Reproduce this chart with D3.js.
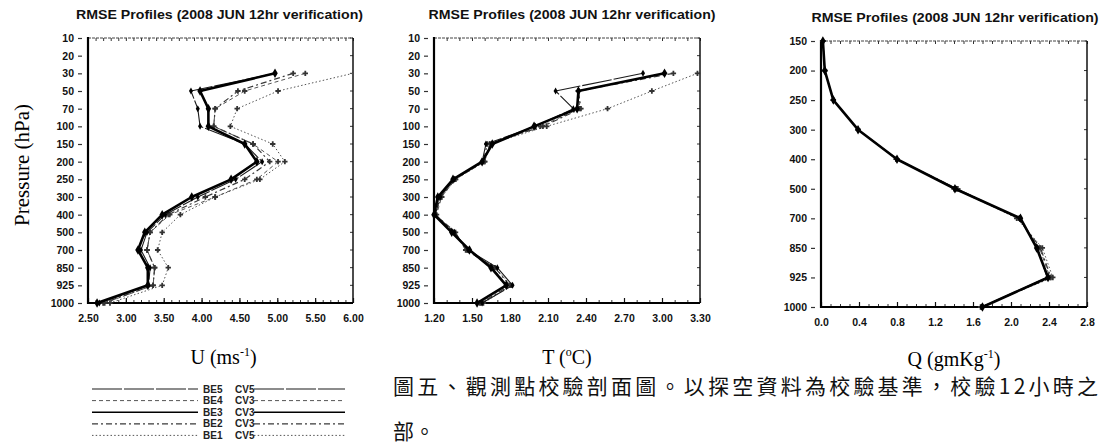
<!DOCTYPE html>
<html>
<head>
<meta charset="utf-8">
<script src="https://cdn.jsdelivr.net/npm/d3@7"></script>
<style>
  body { margin: 0; background: #fff; }
  svg { display: block; }
</style>
</head>
<body>
<svg id="chart" width="1105" height="446"></svg>
<script>
"use strict";

// /////// DATA

// pressure levels (category axis, top to bottom)
const levelsUT = [10, 20, 30, 50, 70, 100, 150, 200, 250, 300, 400, 500, 700, 850, 925, 1000];
const levelsQ = [150, 200, 250, 300, 400, 500, 700, 850, 925, 1000];
// levels that carry data in U / T
const dataLevelsUT = [30, 50, 70, 100, 150, 200, 250, 300, 400, 500, 700, 850, 925, 1000];

const seriesNames = ["BE5  CV5", "BE4  CV3", "BE3  CV3", "BE2  CV3", "BE1  CV5"];

// U RMSE (m/s)
const uBE5CV5 = [4.97, 3.86, 3.95, 3.98, 4.57, 4.80, 4.45, 3.95, 3.52, 3.28, 3.20, 3.32, 3.30, 2.65];
const uBE4CV3 = [5.37, 4.57, 4.18, 4.16, 4.68, 5.01, 4.73, 4.18, 3.58, 3.32, 3.28, 3.38, 3.36, 2.72];
const uBE3CV3 = [4.97, 3.98, 4.09, 4.09, 4.57, 4.73, 4.39, 3.87, 3.48, 3.25, 3.16, 3.29, 3.29, 2.62];
const uBE2CV3 = [5.21, 4.48, 4.18, 4.16, 4.68, 4.90, 4.57, 4.05, 3.56, 3.32, 3.28, 3.38, 3.36, 2.70];
const uBE1CV5 = [6.00, 5.01, 4.47, 4.38, 4.94, 5.10, 4.77, 4.18, 3.72, 3.48, 3.42, 3.56, 3.48, 2.79];

// T RMSE (deg C)
const tBE5CV5 = [2.85, 2.16, 2.30, 2.00, 1.61, 1.58, 1.36, 1.25, 1.21, 1.36, 1.47, 1.70, 1.82, 1.58];
const tBE4CV3 = [3.02, 2.34, 2.35, 2.04, 1.64, 1.60, 1.37, 1.26, 1.22, 1.35, 1.46, 1.66, 1.78, 1.56];
const tBE3CV3 = [3.02, 2.34, 2.33, 1.99, 1.66, 1.58, 1.35, 1.23, 1.20, 1.34, 1.48, 1.65, 1.77, 1.54];
const tBE2CV3 = [3.09, 2.34, 2.36, 2.06, 1.62, 1.59, 1.36, 1.24, 1.21, 1.37, 1.45, 1.68, 1.80, 1.57];
const tBE1CV5 = [3.28, 2.92, 2.57, 2.09, 1.64, 1.60, 1.37, 1.26, 1.21, 1.36, 1.47, 1.68, 1.81, 1.59];

// Q RMSE (g/kg)
const qBE5CV5 = [0.02, 0.04, 0.13, 0.39, 0.80, 1.42, 2.09, 2.28, 2.38, 1.69];
const qBE4CV3 = [0.02, 0.04, 0.13, 0.39, 0.80, 1.40, 2.08, 2.30, 2.41, 1.69];
const qBE3CV3 = [0.02, 0.04, 0.13, 0.39, 0.80, 1.41, 2.10, 2.27, 2.39, 1.70];
const qBE2CV3 = [0.02, 0.04, 0.13, 0.39, 0.80, 1.43, 2.08, 2.31, 2.42, 1.69];
const qBE1CV5 = [0.02, 0.04, 0.13, 0.39, 0.79, 1.44, 2.06, 2.33, 2.44, 1.68];

// x tick labels
const uTicks = [2.5, 3.0, 3.5, 4.0, 4.5, 5.0, 5.5, 6.0];
const tTicks = [1.2, 1.5, 1.8, 2.1, 2.4, 2.7, 3.0, 3.3];
const qTicks = [0.0, 0.4, 0.8, 1.2, 1.6, 2.0, 2.4, 2.8];

const titleText = "RMSE Profiles (2008 JUN 12hr verification)";
const captionLine1 = "圖五、觀測點校驗剖面圖。以探空資料為校驗基準，校驗12小時之";
const captionLine2 = "部。";

// /////// STYLES (one per series, same order as seriesNames)
const styles = [
  { stroke: "#1a1a1a", width: 1.1, dash: "30,2", marker: "diamond" },
  { stroke: "#555", width: 1, dash: "4,3", marker: "cross" },
  { stroke: "#000", width: 2.6, dash: null, marker: "diamond" },
  { stroke: "#3a3a3a", width: 1.2, dash: "6,3,2,3", marker: "cross" },
  { stroke: "#555", width: 1, dash: "1.5,2.2", marker: "cross" },
];

const svg = d3.select("#chart");
const sans = "'Liberation Sans', Arial, sans-serif";
const serif = "'Liberation Serif', 'Times New Roman', serif";

// /////// FUNCTIONS

// Draws one profile panel
function drawPanel(cfg) {
  const x = d3.scaleLinear().domain(cfg.domain).range([cfg.x0, cfg.x1]);
  const y = d3.scalePoint().domain(cfg.levels).range([cfg.y0, cfg.y1]).padding(0);
  const g = svg.append("g");

  // Title
  g.append("text")
    .attr("x", (cfg.x0 + cfg.x1) / 2 + cfg.titleDx)
    .attr("y", cfg.titleY)
    .attr("text-anchor", "middle")
    .attr("textLength", 287)
    .attr("lengthAdjust", "spacingAndGlyphs")
    .style("font-family", sans)
    .style("font-size", "12.5px")
    .style("font-weight", "bold")
    .attr("fill", "#111")
    .text(titleText);

  // Y axis labels + short detached ticks
  const yAxis = g.append("g")
    .attr("transform", `translate(${cfg.x0 - 6},0)`)
    .call(d3.axisLeft(y).tickSize(4).tickPadding(4));
  yAxis.select(".domain").remove();
  yAxis.selectAll("line").attr("stroke", "#222").attr("stroke-width", 1.2);
  yAxis.selectAll("text")
    .style("font-family", sans)
    .style("font-size", "10.5px")
    .style("font-weight", "bold")
    .attr("fill", "#111");

  // Minor ticks along bottom and top (every 0.1)
  const minor = d3.range(Math.round(cfg.domain[0] * 10), Math.round(cfg.domain[1] * 10) + 1).map((v) => v / 10);
  const bMinor = g.append("g")
    .attr("transform", `translate(0,${cfg.y1})`)
    .call(d3.axisBottom(x).tickValues(minor).tickSize(-3).tickFormat(""));
  bMinor.select(".domain").remove();
  const tMinor = g.append("g")
    .attr("transform", `translate(0,${cfg.y0})`)
    .call(d3.axisTop(x).tickValues(minor).tickSize(-3).tickFormat(""));
  tMinor.select(".domain").remove();
  g.selectAll(".tick line").attr("stroke", "#333");

  // Major x ticks with labels
  const xAxis = g.append("g")
    .attr("transform", `translate(0,${cfg.y1})`)
    .call(d3.axisBottom(x).tickValues(cfg.ticks).tickSize(-5).tickPadding(12).tickFormat(d3.format(cfg.fmt)));
  xAxis.select(".domain").remove();
  xAxis.selectAll("line").attr("stroke", "#111").attr("stroke-width", 1.2);
  xAxis.selectAll("text")
    .style("font-family", sans)
    .style("font-size", "10.5px")
    .style("font-weight", "bold")
    .attr("fill", "#111");

  // Right side small ticks at each level
  g.selectAll(".rtick")
    .data(cfg.levels)
    .join("line")
    .attr("x1", cfg.x1 - 3)
    .attr("x2", cfg.x1)
    .attr("y1", (d) => y(d))
    .attr("y2", (d) => y(d))
    .attr("stroke", "#333");

  // Frame: thin top/right, thick left/bottom
  g.append("line").attr("x1", cfg.x0).attr("x2", cfg.x1).attr("y1", cfg.y0).attr("y2", cfg.y0)
    .attr("stroke", "#444").attr("stroke-width", 1).attr("stroke-dasharray", "3,1");
  g.append("line").attr("x1", cfg.x1).attr("x2", cfg.x1).attr("y1", cfg.y0).attr("y2", cfg.y1)
    .attr("stroke", "#111").attr("stroke-width", 1.5);
  g.append("line").attr("x1", cfg.x0).attr("x2", cfg.x0).attr("y1", cfg.y0 - 1).attr("y2", cfg.y1 + 1)
    .attr("stroke", "#000").attr("stroke-width", 2.2);
  g.append("line").attr("x1", cfg.x0 - 1).attr("x2", cfg.x1).attr("y1", cfg.y1).attr("y2", cfg.y1)
    .attr("stroke", "#000").attr("stroke-width", 2.2);

  // Series lines
  const line = d3.line()
    .x((d) => x(d.v))
    .y((d) => y(d.p));

  // draw thin ones first, thick BE3 on top
  const order = [4, 1, 3, 0, 2];
  order.forEach((i) => {
    const pts = cfg.series[i].map((v, k) => ({ v, p: cfg.dataLevels[k] }));
    const st = styles[i];
    g.append("path")
      .datum(pts)
      .attr("d", line)
      .attr("fill", "none")
      .attr("stroke", st.stroke)
      .attr("stroke-width", st.width)
      .attr("stroke-dasharray", st.dash)
      .attr("stroke-linejoin", "round");

    const sym = d3.symbol()
      .type(st.marker === "diamond" ? d3.symbolDiamond : d3.symbolCross)
      .size(st.marker === "diamond" ? (i === 2 ? 26 : 14) : 16);
    g.selectAll(null)
      .data(pts.filter((d) => d.v <= cfg.domain[1] - 0.02))
      .join("path")
      .attr("d", sym)
      .attr("transform", (d) => `translate(${x(d.v)},${y(d.p)})`)
      .attr("fill", i === 2 || i === 0 ? "#000" : "#333");
  });

  // Unit label under the panel
  const lab = g.append("text")
    .attr("x", (cfg.x0 + cfg.x1) / 2 + cfg.labelDx)
    .attr("y", cfg.labelY)
    .attr("text-anchor", "middle")
    .style("font-family", serif)
    .style("font-size", "20px")
    .attr("fill", "#000");
  cfg.label(lab);
}

// /////// PANELS

drawPanel({
  x0: 88, x1: 353, y0: 38, y1: 303,
  domain: [2.5, 6.0], ticks: uTicks, fmt: ".2f",
  levels: levelsUT, dataLevels: dataLevelsUT,
  series: [uBE5CV5, uBE4CV3, uBE3CV3, uBE2CV3, uBE1CV5],
  titleDx: -1, titleY: 19,
  labelDx: 3, labelY: 364,
  label: (t) => {
    t.append("tspan").text("U (ms");
    t.append("tspan").attr("dy", -8).style("font-size", "12px").text("-1");
    t.append("tspan").attr("dy", 8).text(")");
  },
});

drawPanel({
  x0: 434, x1: 700, y0: 38, y1: 303,
  domain: [1.2, 3.3], ticks: tTicks, fmt: ".2f",
  levels: levelsUT, dataLevels: dataLevelsUT,
  series: [tBE5CV5, tBE4CV3, tBE3CV3, tBE2CV3, tBE1CV5],
  titleDx: 5, titleY: 19,
  labelDx: 0, labelY: 364,
  label: (t) => {
    t.append("tspan").text("T (");
    t.append("tspan").attr("dy", -8).style("font-size", "12px").text("o");
    t.append("tspan").attr("dy", 8).text("C)");
  },
});

drawPanel({
  x0: 821, x1: 1087, y0: 41, y1: 307,
  domain: [0, 2.8], ticks: qTicks, fmt: ".1f",
  levels: levelsQ, dataLevels: levelsQ,
  series: [qBE5CV5, qBE4CV3, qBE3CV3, qBE2CV3, qBE1CV5],
  titleDx: 1, titleY: 22,
  labelDx: 0, labelY: 366,
  label: (t) => {
    t.append("tspan").text("Q (gmKg");
    t.append("tspan").attr("dy", -8).style("font-size", "12px").text("-1");
    t.append("tspan").attr("dy", 8).text(")");
  },
});

// Pressure axis title
svg.append("text")
  .attr("transform", "translate(29,165) rotate(-90)")
  .attr("text-anchor", "middle")
  .style("font-family", serif)
  .style("font-size", "21px")
  .attr("fill", "#000")
  .text("Pressure (hPa)");

// /////// LEGEND
const legend = svg.append("g");
seriesNames.forEach((name, i) => {
  const ly = 389 + i * 11.6;
  const st = styles[i];
  [[92, 198], [254, 345]].forEach(([a, b]) => {
    legend.append("line")
      .attr("x1", a).attr("x2", b).attr("y1", ly).attr("y2", ly)
      .attr("stroke", st.stroke)
      .attr("stroke-width", Math.min(st.width, 1.4))
      .attr("stroke-dasharray", st.dash);
  });
  const parts = name.split(/\s+/);
  legend.append("text").attr("x", 203).attr("y", ly + 3.5)
    .style("font-family", sans).style("font-size", "10px").style("font-weight", "bold")
    .attr("fill", "#222").text(parts[0]);
  legend.append("text").attr("x", 235).attr("y", ly + 3.5)
    .style("font-family", sans).style("font-size", "10px").style("font-weight", "bold")
    .attr("fill", "#222").text(parts[1]);
});

// /////// CAPTION
const cjk = "'Noto Sans CJK TC', 'Noto Sans CJK SC', sans-serif";
svg.append("text")
  .attr("x", 393).attr("y", 394)
  .attr("textLength", 705)
  .attr("lengthAdjust", "spacing")
  .style("font-family", cjk)
  .style("font-size", "21px")
  .attr("fill", "#111")
  .text(captionLine1);
svg.append("text")
  .attr("x", 393).attr("y", 439)
  .style("font-family", cjk)
  .style("font-size", "21px")
  .attr("fill", "#111")
  .text(captionLine2);
</script>
</body>
</html>
